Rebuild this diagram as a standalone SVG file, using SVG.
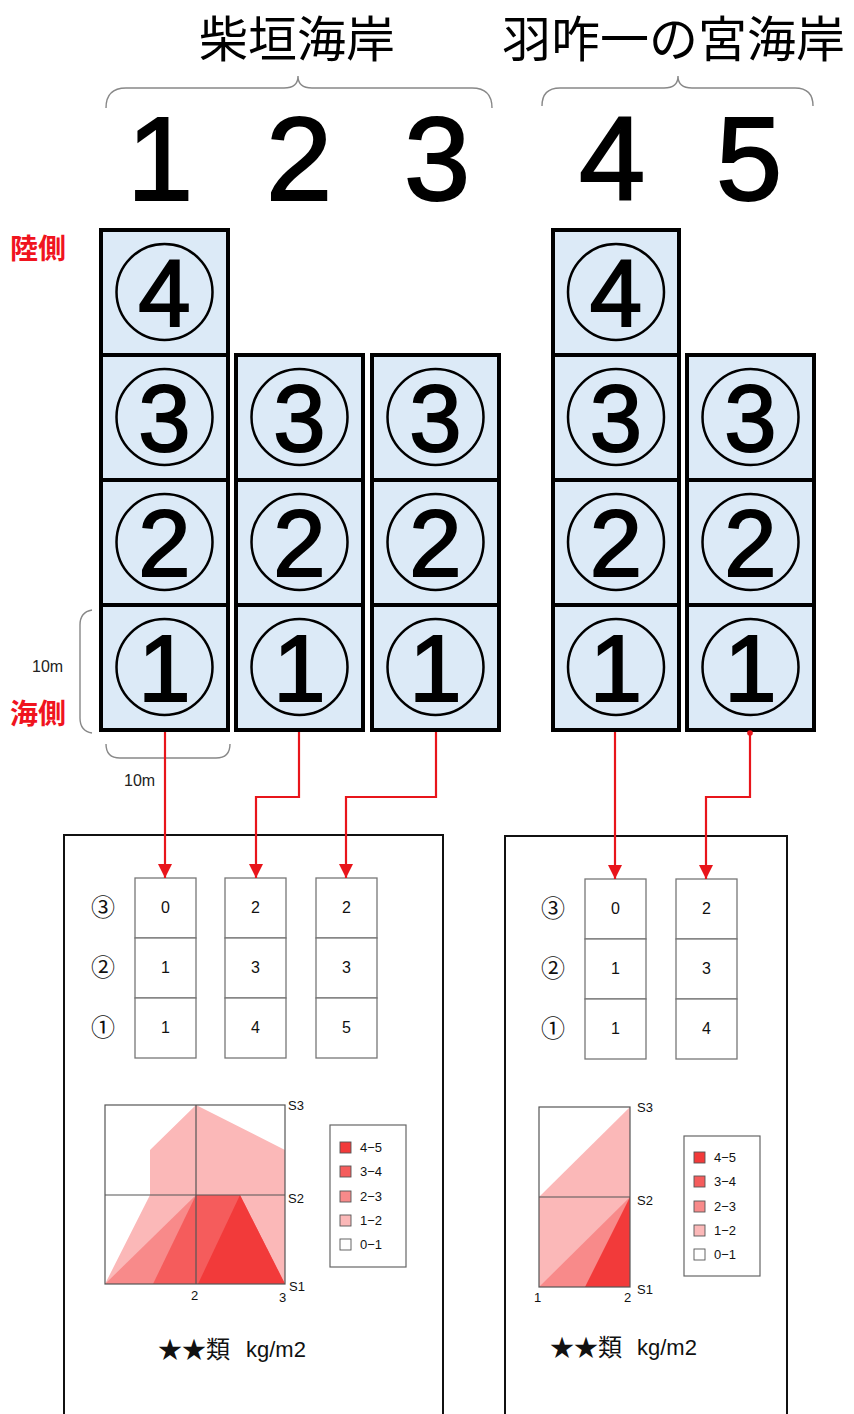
<svg xmlns="http://www.w3.org/2000/svg" width="854" height="1414" viewBox="0 0 854 1414">
<defs>
<style>
.cell{fill:#dceaf7;stroke:#000;stroke-width:4}
.circ{fill:none;stroke:#000;stroke-width:2.5}
.big{font-family:"Liberation Sans",Arial,sans-serif;font-size:94px;text-anchor:middle;fill:#000;stroke:#000;stroke-width:2}
.hdr{font-family:"Liberation Sans",Arial,sans-serif;font-size:119px;text-anchor:middle;fill:#000;stroke:#000;stroke-width:2}
.title{font-family:"Noto Sans CJK JP",sans-serif;font-size:49px;fill:#000}
.red{font-family:"Noto Sans CJK JP",sans-serif;font-size:28px;font-weight:bold;fill:#f0141e}
.small{font-family:"Liberation Sans",Arial,sans-serif;font-size:16px;fill:#222}
.brace{fill:none;stroke:#888;stroke-width:1.4}
.conn{fill:none;stroke:#e8151b;stroke-width:2.2}
.box{fill:#fff;stroke:#111;stroke-width:2}
.tcell{fill:#fff;stroke:#777;stroke-width:1.3}
.tv{font-family:"Liberation Sans",Arial,sans-serif;font-size:16px;text-anchor:middle;fill:#111}
.rl{font-family:"Noto Sans CJK JP",sans-serif;font-size:24px;text-anchor:middle;fill:#111}
.ax{font-family:"Liberation Sans",Arial,sans-serif;font-size:13px;fill:#111}
.lg{font-family:"Liberation Sans",Arial,sans-serif;font-size:13px;fill:#111}
.grid{fill:none;stroke:#555;stroke-width:1.2}
.sq{stroke:#555;stroke-width:0.9}
.c45{fill:#f23a3a}.c34{fill:#f55c5c}.c23{fill:#f88a8a}.c12{fill:#fbb8b8}.c01{fill:#fff}
.unitj{font-family:"Noto Sans CJK JP",sans-serif;font-size:24px;fill:#111}
.unitl{font-family:"Liberation Sans",Arial,sans-serif;font-size:22px;fill:#111}
</style>
<marker id="ah" viewBox="0 0 10 10" refX="10" refY="5" markerWidth="14" markerHeight="14" markerUnits="userSpaceOnUse" orient="auto">
<path d="M0,0 L10,5 L0,10 z" fill="#e8151b"/>
</marker>
</defs>
<rect width="854" height="1414" fill="#fff"/>

<g id="titles">
<text class="title" x="199" y="57">柴垣海岸</text>
<text class="title" x="502" y="57">羽咋一の宮海岸</text>
<path class="brace" d="M106,108 Q106,88 126,88 L284,88 Q298,88 298,76 Q298,88 312,88 L472,88 Q492,88 492,108"/>
<path class="brace" d="M542,106 Q542,88 560,88 L664,88 Q678,88 678,76 Q678,88 692,88 L795,88 Q813,88 813,106"/>
<text class="hdr" x="160" y="200">1</text>
<text class="hdr" x="299" y="200">2</text>
<text class="hdr" x="437" y="200">3</text>
<text class="hdr" x="612" y="200">4</text>
<text class="hdr" x="749" y="200">5</text>
</g>

<g id="side-labels">
<text class="red" x="10" y="259">陸側</text>
<text class="red" x="10" y="724">海側</text>
<text class="small" x="32" y="672">10m</text>
<path class="brace" d="M92,610 Q80,612 80,625 L80,718 Q80,731 92,733"/>
<path class="brace" d="M106,744 Q106,758 120,758 L216,758 Q230,758 230,744"/>
<text class="small" x="124" y="786">10m</text>
</g>

<g id="col1">
<rect class="cell" x="101" y="230" width="127" height="125"/>
<rect class="cell" x="101" y="355" width="127" height="125"/>
<rect class="cell" x="101" y="480" width="127" height="125"/>
<rect class="cell" x="101" y="605" width="127" height="125"/>
<circle class="circ" cx="164.5" cy="292" r="48"/><text class="big" x="164.5" y="326">4</text>
<circle class="circ" cx="164.5" cy="417" r="48"/><text class="big" x="164.5" y="451">3</text>
<circle class="circ" cx="164.5" cy="542" r="48"/><text class="big" x="164.5" y="576">2</text>
<circle class="circ" cx="164.5" cy="667" r="48"/><text class="big" x="164.5" y="701">1</text>
</g>
<g id="col2">
<rect class="cell" x="236" y="355" width="127" height="125"/>
<rect class="cell" x="236" y="480" width="127" height="125"/>
<rect class="cell" x="236" y="605" width="127" height="125"/>
<circle class="circ" cx="299.5" cy="417" r="48"/><text class="big" x="299.5" y="451">3</text>
<circle class="circ" cx="299.5" cy="542" r="48"/><text class="big" x="299.5" y="576">2</text>
<circle class="circ" cx="299.5" cy="667" r="48"/><text class="big" x="299.5" y="701">1</text>
</g>
<g id="col3">
<rect class="cell" x="372" y="355" width="127" height="125"/>
<rect class="cell" x="372" y="480" width="127" height="125"/>
<rect class="cell" x="372" y="605" width="127" height="125"/>
<circle class="circ" cx="435.5" cy="417" r="48"/><text class="big" x="435.5" y="451">3</text>
<circle class="circ" cx="435.5" cy="542" r="48"/><text class="big" x="435.5" y="576">2</text>
<circle class="circ" cx="435.5" cy="667" r="48"/><text class="big" x="435.5" y="701">1</text>
</g>
<g id="col4">
<rect class="cell" x="553" y="230" width="126" height="125"/>
<rect class="cell" x="553" y="355" width="126" height="125"/>
<rect class="cell" x="553" y="480" width="126" height="125"/>
<rect class="cell" x="553" y="605" width="126" height="125"/>
<circle class="circ" cx="616" cy="292" r="48"/><text class="big" x="616" y="326">4</text>
<circle class="circ" cx="616" cy="417" r="48"/><text class="big" x="616" y="451">3</text>
<circle class="circ" cx="616" cy="542" r="48"/><text class="big" x="616" y="576">2</text>
<circle class="circ" cx="616" cy="667" r="48"/><text class="big" x="616" y="701">1</text>
</g>
<g id="col5">
<rect class="cell" x="687" y="355" width="127" height="125"/>
<rect class="cell" x="687" y="480" width="127" height="125"/>
<rect class="cell" x="687" y="605" width="127" height="125"/>
<circle class="circ" cx="750.5" cy="417" r="48"/><text class="big" x="750.5" y="451">3</text>
<circle class="circ" cx="750.5" cy="542" r="48"/><text class="big" x="750.5" y="576">2</text>
<circle class="circ" cx="750.5" cy="667" r="48"/><text class="big" x="750.5" y="701">1</text>
</g>

<g id="panel1">
<rect class="box" x="64" y="835" width="379" height="600"/>
<rect class="tcell" x="135" y="878" width="61" height="60"/>
<rect class="tcell" x="135" y="938" width="61" height="60"/>
<rect class="tcell" x="135" y="998" width="61" height="60"/>
<rect class="tcell" x="225" y="878" width="61" height="60"/>
<rect class="tcell" x="225" y="938" width="61" height="60"/>
<rect class="tcell" x="225" y="998" width="61" height="60"/>
<rect class="tcell" x="316" y="878" width="61" height="60"/>
<rect class="tcell" x="316" y="938" width="61" height="60"/>
<rect class="tcell" x="316" y="998" width="61" height="60"/>
<text class="rl" x="103" y="916">③</text>
<text class="rl" x="103" y="976">②</text>
<text class="rl" x="103" y="1036">①</text>
<text class="tv" x="165.5" y="913">0</text><text class="tv" x="165.5" y="973">1</text><text class="tv" x="165.5" y="1033">1</text>
<text class="tv" x="255.5" y="913">2</text><text class="tv" x="255.5" y="973">3</text><text class="tv" x="255.5" y="1033">4</text>
<text class="tv" x="346.5" y="913">2</text><text class="tv" x="346.5" y="973">3</text><text class="tv" x="346.5" y="1033">5</text>
<polygon class="c12" points="105,1284 150,1195 150,1150 196,1105 285,1150 285,1284"/>
<polygon class="c23" points="105,1284 196,1195 230,1195 285,1284"/>
<polygon class="c34" points="153,1284 196,1195 240,1195 285,1284"/>
<polygon class="c45" points="198,1284 240,1195 285,1284"/>
<rect class="grid" x="105" y="1105" width="180" height="179"/>
<line class="grid" x1="105" y1="1195" x2="285" y2="1195"/>
<line class="grid" x1="196" y1="1105" x2="196" y2="1284"/>
<text class="ax" x="288" y="1110">S3</text>
<text class="ax" x="288" y="1203">S2</text>
<text class="ax" x="289" y="1291">S1</text>
<text class="ax" x="191" y="1300">2</text>
<text class="ax" x="279" y="1302">3</text>
<rect x="330" y="1125" width="76" height="142" fill="#fff" stroke="#666" stroke-width="1.2"/>
<rect class="sq c45" x="340" y="1142" width="11" height="11"/><text class="lg" x="360" y="1152">4−5</text>
<rect class="sq c34" x="340" y="1166" width="11" height="11"/><text class="lg" x="360" y="1176">3−4</text>
<rect class="sq c23" x="340" y="1191" width="11" height="11"/><text class="lg" x="360" y="1201">2−3</text>
<rect class="sq c12" x="340" y="1215" width="11" height="11"/><text class="lg" x="360" y="1225">1−2</text>
<rect class="sq c01" x="340" y="1239" width="11" height="11"/><text class="lg" x="360" y="1249">0−1</text>
<text class="unitj" x="158" y="1358">★★類</text>
<text class="unitl" x="246" y="1357">kg/m2</text>
</g>

<g id="panel2">
<rect class="box" x="505" y="836" width="282" height="600"/>
<rect class="tcell" x="585" y="879" width="61" height="60"/>
<rect class="tcell" x="585" y="939" width="61" height="60"/>
<rect class="tcell" x="585" y="999" width="61" height="60"/>
<rect class="tcell" x="676" y="879" width="61" height="60"/>
<rect class="tcell" x="676" y="939" width="61" height="60"/>
<rect class="tcell" x="676" y="999" width="61" height="60"/>
<text class="rl" x="553" y="917">③</text>
<text class="rl" x="553" y="977">②</text>
<text class="rl" x="553" y="1037">①</text>
<text class="tv" x="615.5" y="914">0</text><text class="tv" x="615.5" y="974">1</text><text class="tv" x="615.5" y="1034">1</text>
<text class="tv" x="706.5" y="914">2</text><text class="tv" x="706.5" y="974">3</text><text class="tv" x="706.5" y="1034">4</text>
<polygon class="c12" points="539,1287 539,1197 630,1107 630,1287"/>
<polygon class="c23" points="539,1287 630,1197 630,1287"/>
<polygon class="c45" points="585,1287 630,1197 630,1287"/>
<rect class="grid" x="539" y="1107" width="91" height="180"/>
<line class="grid" x1="539" y1="1197" x2="630" y2="1197"/>
<text class="ax" x="637" y="1112">S3</text>
<text class="ax" x="637" y="1205">S2</text>
<text class="ax" x="637" y="1294">S1</text>
<text class="ax" x="534" y="1302">1</text>
<text class="ax" x="624" y="1302">2</text>
<rect x="684" y="1136" width="76" height="140" fill="#fff" stroke="#666" stroke-width="1.2"/>
<rect class="sq c45" x="694" y="1152" width="11" height="11"/><text class="lg" x="714" y="1162">4−5</text>
<rect class="sq c34" x="694" y="1176" width="11" height="11"/><text class="lg" x="714" y="1186">3−4</text>
<rect class="sq c23" x="694" y="1201" width="11" height="11"/><text class="lg" x="714" y="1211">2−3</text>
<rect class="sq c12" x="694" y="1225" width="11" height="11"/><text class="lg" x="714" y="1235">1−2</text>
<rect class="sq c01" x="694" y="1249" width="11" height="11"/><text class="lg" x="714" y="1259">0−1</text>
<text class="unitj" x="550" y="1356">★★類</text>
<text class="unitl" x="637" y="1355">kg/m2</text>
</g>

<g id="connectors">
<path class="conn" marker-end="url(#ah)" d="M165,732 L165,878"/>
<path class="conn" marker-end="url(#ah)" d="M299,732 L299,797 L256,797 L256,878"/>
<path class="conn" marker-end="url(#ah)" d="M436,732 L436,797 L346,797 L346,878"/>
<path class="conn" marker-end="url(#ah)" d="M615,732 L615,879"/>
<path class="conn" marker-end="url(#ah)" d="M750,732 L750,797 L706,797 L706,879"/>
<circle cx="750" cy="733" r="2.8" fill="#e8151b"/>
</g>
</svg>
